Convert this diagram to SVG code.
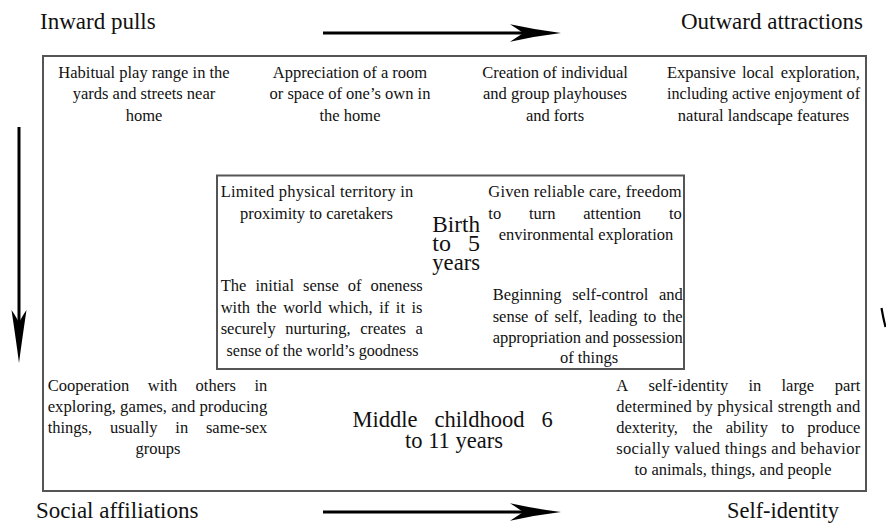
<svg xmlns="http://www.w3.org/2000/svg" width="886" height="523" viewBox="0 0 886 523">
<style>
.t{font-family:"Liberation Serif","Times New Roman",serif;font-size:16.5px;fill:#111}
.h{font-size:23px}
.b{font-size:24px}
.m{font-size:22.5px}
.c{text-anchor:middle}
.box{fill:none;stroke:#555;stroke-width:2}
.shaft{stroke:#000;stroke-width:3;fill:none}
.head{fill:#000;stroke:none}
</style>
<rect width="886" height="523" fill="#fff"/>
<g id="outer-box"><rect class="box" x="43" y="56" width="823" height="435"/></g>
<g id="inner-box"><rect class="box" x="217" y="175.5" width="467" height="193.5"/></g>

<g id="connectors">
  <line class="shaft" x1="323" y1="33" x2="528" y2="33"/>
  <path class="head" d="M561,33 Q536,30 510,24.3 Q519,30 523,33 Q519,36 510,41.7 Q536,36 561,33 Z"/>
  <line class="shaft" x1="323" y1="512" x2="528" y2="512"/>
  <path class="head" d="M561,512 Q536,509 510,503.3 Q519,509 523,512 Q519,515 510,520.7 Q536,515 561,512 Z"/>
  <line class="shaft" x1="19" y1="127" x2="19" y2="330"/>
  <path class="head" d="M19,363 Q16,340 11.5,310 Q17,318 19,323 Q21,318 26.5,310 Q22,340 19,363 Z"/>
  <path d="M881.5,308 Q883,317 885.5,327" stroke="#000" stroke-width="2.2" fill="none"/>
</g>

<g id="label-inward"><text class="t h" x="40" y="29">Inward pulls</text></g>
<g id="label-outward"><text class="t h" x="863" y="29" text-anchor="end">Outward attractions</text></g>
<g id="label-social"><text class="t h" x="36" y="518">Social affiliations</text></g>
<g id="label-self"><text class="t h" x="727" y="518" textLength="112" lengthAdjust="spacingAndGlyphs">Self-identity</text></g>

<g id="top-1">
  <text class="t c" x="144" y="77.5">Habitual play range in the</text>
  <text class="t c" x="144" y="99">yards and streets near</text>
  <text class="t c" x="144" y="120.5">home</text>
</g>
<g id="top-2">
  <text class="t c" x="350" y="77.5">Appreciation of a room</text>
  <text class="t c" x="350" y="99">or space of one’s own in</text>
  <text class="t c" x="350" y="120.5">the home</text>
</g>
<g id="top-3">
  <text class="t c" x="555" y="77.5">Creation of individual</text>
  <text class="t c" x="555" y="99">and group playhouses</text>
  <text class="t c" x="555" y="120.5">and forts</text>
</g>
<g id="top-4">
  <text class="t" y="77.5"><tspan x="667">Expansive</tspan><tspan x="742">local</tspan><tspan x="780.7">exploration,</tspan></text>
  <text class="t" x="667" y="99" textLength="193" lengthAdjust="spacingAndGlyphs">including active enjoyment of</text>
  <text class="t c" x="763.5" y="120.5">natural landscape features</text>
</g>

<g id="inner-tl">
  <text class="t" x="220.7" y="197" textLength="192.6" lengthAdjust="spacing">Limited physical territory in</text>
  <text class="t c" x="316.5" y="218.5">proximity to caretakers</text>
</g>
<g id="inner-tr">
  <text class="t" x="488.3" y="197" textLength="193.4" lengthAdjust="spacing">Given reliable care, freedom</text>
  <text class="t" y="218.5"><tspan x="488.3">to</tspan><tspan x="528.9">turn</tspan><tspan x="583.3">attention</tspan><tspan x="668.9">to</tspan></text>
  <text class="t c" x="586" y="240">environmental exploration</text>
</g>
<g id="inner-center">
  <text class="t b" x="432.3" y="232" textLength="47.7" lengthAdjust="spacingAndGlyphs">Birth</text>
  <text class="t b" y="251"><tspan x="432.3">to</tspan><tspan x="468">5</tspan></text>
  <text class="t b" x="432.3" y="270" textLength="47.7" lengthAdjust="spacingAndGlyphs">years</text>
</g>
<g id="inner-bl">
  <text class="t" y="291"><tspan x="220.7">The</tspan><tspan x="255.5">initial</tspan><tspan x="303">sense</tspan><tspan x="347.8">of</tspan><tspan x="370.5">oneness</tspan></text>
  <text class="t" y="312.7"><tspan x="220.7">with</tspan><tspan x="256.5">the</tspan><tspan x="283.2">world</tspan><tspan x="328.2">which,</tspan><tspan x="379.2">if</tspan><tspan x="395.8">it</tspan><tspan x="411.5">is</tspan></text>
  <text class="t" y="334.4"><tspan x="220.7">securely</tspan><tspan x="285.2">nurturing,</tspan><tspan x="360.2">creates</tspan><tspan x="415.4">a</tspan></text>
  <text class="t c" x="322.5" y="356" textLength="192" lengthAdjust="spacingAndGlyphs">sense of the world’s goodness</text>
</g>
<g id="inner-br">
  <text class="t" y="300"><tspan x="492.7">Beginning</tspan><tspan x="572.2">self-control</tspan><tspan x="658.9">and</tspan></text>
  <text class="t" y="321.7"><tspan x="492.7">sense</tspan><tspan x="534.6">of</tspan><tspan x="554.5">self,</tspan><tspan x="588.7">leading</tspan><tspan x="643.5">to</tspan><tspan x="662.5">the</tspan></text>
  <text class="t" x="492.7" y="343.3" textLength="190" lengthAdjust="spacing">appropriation and possession</text>
  <text class="t c" x="589" y="363">of things</text>
</g>

<g id="bottom-left">
  <text class="t" y="391"><tspan x="47.7">Cooperation</tspan><tspan x="147.8">with</tspan><tspan x="195.6">others</tspan><tspan x="254.5">in</tspan></text>
  <text class="t" x="47.7" y="412" textLength="219.6" lengthAdjust="spacingAndGlyphs">exploring, games, and producing</text>
  <text class="t" y="433"><tspan x="47.7">things,</tspan><tspan x="109.9">usually</tspan><tspan x="175.3">in</tspan><tspan x="205.9">same-sex</tspan></text>
  <text class="t c" x="158" y="454">groups</text>
</g>
<g id="bottom-center">
  <text class="t m" y="427"><tspan x="352.4">Middle</tspan><tspan x="434.5">childhood</tspan><tspan x="541.5">6</tspan></text>
  <text class="t m c" x="454" y="448">to 11 years</text>
</g>
<g id="bottom-right">
  <text class="t" y="391"><tspan x="616.3">A</tspan><tspan x="648.5">self-identity</tspan><tspan x="748.4">in</tspan><tspan x="781.5">large</tspan><tspan x="834.7">part</tspan></text>
  <text class="t" x="616.3" y="412" textLength="244" lengthAdjust="spacing">determined by physical strength and</text>
  <text class="t" y="433"><tspan x="616.3">dexterity,</tspan><tspan x="692.4">the</tspan><tspan x="725.8">ability</tspan><tspan x="781.3">to</tspan><tspan x="807.3">produce</tspan></text>
  <text class="t" x="616.3" y="454" textLength="244" lengthAdjust="spacing">socially valued things and behavior</text>
  <text class="t c" x="733" y="475">to animals, things, and people</text>
</g>
</svg>
